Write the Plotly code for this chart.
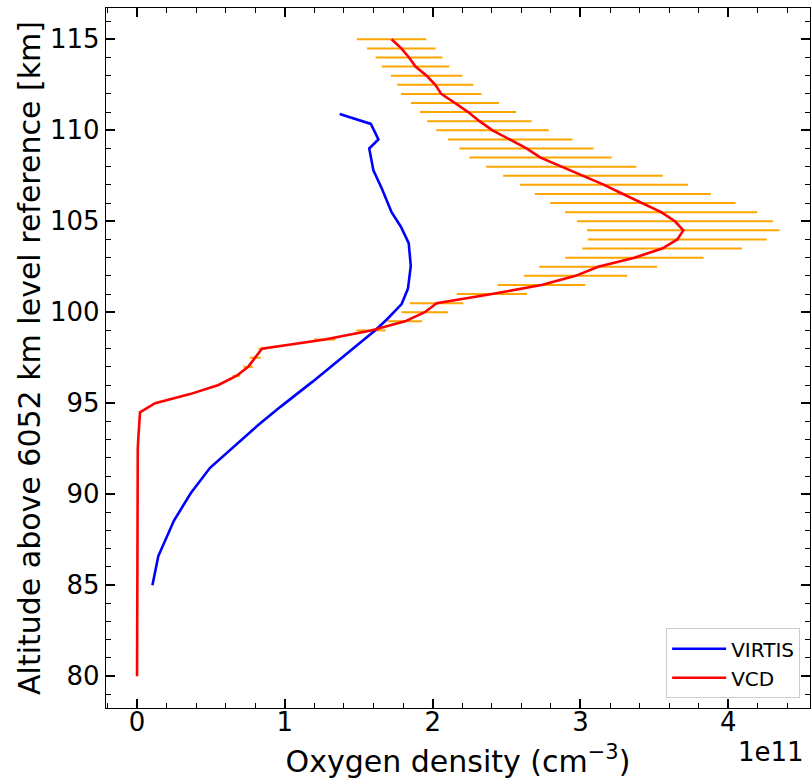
import plotly.graph_objects as go

# Altitude grid for the VCD profile (km), 0.5 km steps
vcd_alt = [80.0 + 0.5 * i for i in range(71)]

# VCD oxygen density (units of 1e11 cm^-3), from 80 km up to 115 km
vcd_density = [
    0.0, 0.0, 0.0, 0.0, 0.0, 0.0, 0.0, 0.0, 0.0, 0.0,                    # 80.0 - 84.5
    0.0, 0.0, 0.0, 0.0, 0.0, 0.0, 0.0, 0.0, 0.0, 0.0,                    # 85.0 - 89.5
    0.0, 0.0, 0.0, 0.0, 0.002, 0.005, 0.008, 0.012, 0.016, 0.02,         # 90.0 - 94.5
    0.122, 0.359, 0.551, 0.672, 0.752, 0.80, 0.845, 1.27, 1.583, 1.813,  # 95.0 - 99.5
    1.947, 2.027, 2.401, 2.736, 2.967, 3.12, 3.365, 3.553, 3.655, 3.696, # 100.0 - 104.5
    3.639, 3.546, 3.422, 3.287, 3.16, 3.017, 2.87, 2.73, 2.635, 2.525,   # 105.0 - 109.5
    2.405, 2.317, 2.24, 2.151, 2.058, 2.018, 1.959, 1.884, 1.84, 1.788,  # 110.0 - 114.5
    1.722,                                                               # 115.0
]

# VCD uncertainty (units of 1e11 cm^-3)
vcd_error = [
    0.0, 0.0, 0.0, 0.0, 0.0, 0.0, 0.0, 0.0, 0.0, 0.0,
    0.0, 0.0, 0.0, 0.0, 0.0, 0.0, 0.0, 0.0, 0.0, 0.0,
    0.0, 0.0, 0.0, 0.0, 0.0, 0.0, 0.0, 0.0, 0.0, 0.0005,
    0.002, 0.006, 0.01, 0.026, 0.032, 0.037, 0.024, 0.072, 0.099, 0.116,
    0.157, 0.181, 0.238, 0.297, 0.348, 0.399, 0.468, 0.54, 0.605, 0.652,
    0.663, 0.65, 0.627, 0.595, 0.568, 0.54, 0.508, 0.481, 0.454, 0.421,
    0.381, 0.353, 0.325, 0.298, 0.272, 0.258, 0.242, 0.229, 0.226, 0.232,
    0.235,
]

# VIRTIS profile
virtis_alt = [85.0, 86.6, 88.55, 90.05, 91.45, 92.6, 93.8, 94.8, 96.2, 97.6,
              99.0, 99.6, 100.45, 101.3, 102.55, 103.8, 104.7, 105.5, 106.8,
              107.8, 109.0, 109.5, 110.35, 110.9]
virtis_density = [0.104, 0.144, 0.25, 0.363, 0.494, 0.655, 0.82, 0.97, 1.19, 1.40,
                  1.61, 1.69, 1.79, 1.833, 1.852, 1.838, 1.785, 1.722, 1.656,
                  1.599, 1.571, 1.633, 1.582, 1.371]

x_ticks = [0, 1, 2, 3, 4]
y_ticks = [80, 85, 90, 95, 100, 105, 110, 115]

FONT = "DejaVu Sans"

fig = go.Figure()

# error bars drawn first so the profile line sits on top
fig.add_trace(go.Scatter(
    x=vcd_density, y=vcd_alt, mode="markers",
    marker=dict(size=0, color="rgba(0,0,0,0)"),
    error_x=dict(type="data", array=vcd_error, symmetric=True,
                 color="#FFA500", thickness=2, width=0),
    showlegend=False, hoverinfo="skip",
))
fig.add_trace(go.Scatter(
    x=virtis_density, y=virtis_alt, mode="lines", name="VIRTIS",
    line=dict(color="#0000FF", width=2.6),
))
fig.add_trace(go.Scatter(
    x=vcd_density, y=vcd_alt, mode="lines", name="VCD",
    line=dict(color="#FF0000", width=2.6),
))

axis_common = dict(
    showline=True, linecolor="black", linewidth=1.3, mirror="allticks",
    ticks="inside", ticklen=9, tickwidth=1.5, tickcolor="black",
    showgrid=False, zeroline=False,
    tickfont=dict(family=FONT, size=26, color="black"),
)

fig.update_xaxes(
    range=[-0.21, 4.553], tickvals=x_ticks, ticktext=[str(v) for v in x_ticks],
    ticklabelstandoff=-9,
    minor=dict(dtick=0.2, tick0=0, ticks="inside", ticklen=5, tickwidth=1.3,
               tickcolor="black", showgrid=False),
    title=dict(text="Oxygen density (cm<sup>−3</sup>)",
               font=dict(family=FONT, size=30, color="black"), standoff=14),
    **axis_common,
)
fig.update_yaxes(
    range=[78.25, 116.72], tickvals=y_ticks, ticktext=[str(v) for v in y_ticks],
    minor=dict(dtick=1, tick0=80, ticks="inside", ticklen=5, tickwidth=1.3,
               tickcolor="black", showgrid=False),
    title=dict(text="Altitude above 6052 km level reference [km]",
               font=dict(family=FONT, size=30, color="black"), standoff=0),
    **axis_common,
)

fig.add_annotation(
    text="1e11", xref="paper", yref="paper", x=0.995, y=-0.063,
    xanchor="right", yanchor="middle", showarrow=False,
    font=dict(family=FONT, size=26, color="black"),
)

fig.update_layout(
    width=811, height=782,
    margin=dict(l=106, r=1, t=8, b=74),
    plot_bgcolor="white", paper_bgcolor="white",
    font=dict(family=FONT, color="black"),
    legend=dict(
        x=0.986, y=0.014, xanchor="right", yanchor="bottom",
        bgcolor="rgba(255,255,255,0.8)", bordercolor="#cccccc", borderwidth=1,
        itemwidth=54,
        font=dict(family=FONT, size=20, color="black"),
    ),
)

fig.write_html("out.html")
